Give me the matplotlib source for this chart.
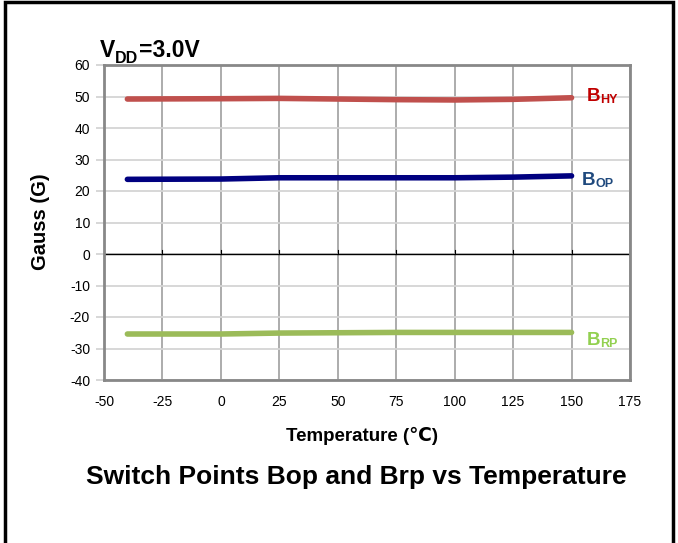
import matplotlib.pyplot as plt
import numpy as np
from matplotlib.patches import Rectangle

plt.rcParams['font.family'] = ['Liberation Sans', 'DejaVu Sans']
plt.rcParams['axes.unicode_minus'] = False

temps = [-40, 0, 25, 50, 75, 100, 125, 150]
b_hy = [49.2, 49.3, 49.4, 49.2, 49.0, 48.9, 49.1, 49.6]
b_op = [23.7, 23.8, 24.2, 24.2, 24.2, 24.2, 24.4, 24.8]
b_rp = [-25.4, -25.4, -25.1, -25.0, -24.9, -24.9, -24.9, -24.9]

x_ticks = [-50, -25, 0, 25, 50, 75, 100, 125, 150, 175]
y_ticks = [-40, -30, -20, -10, 0, 10, 20, 30, 40, 50, 60]

fig = plt.figure(figsize=(6.78, 5.43), dpi=100)
ax = fig.add_axes([104 / 678, 1 - 380 / 543, (630 - 104) / 678, (380 - 65) / 543])
renderer = fig.canvas.get_renderer()

# outer frame
fig.patches.append(Rectangle((5 / 678, -0.05), (673 - 5) / 678, 1.05 - 2 / 543,
                             transform=fig.transFigure, fill=False,
                             edgecolor='black', linewidth=2.5))

ax.set_xlim(-50, 175)
ax.set_ylim(-40, 60)
ax.set_xticks(x_ticks)
ax.set_yticks(y_ticks)

for x in x_ticks:
    ax.axvline(x, color='#a6a6a6', linewidth=1.3, zorder=1)
for y in y_ticks:
    ax.axhline(y, color='#d4d4d4', linewidth=1.3, zorder=1)
ax.axhline(0, color='black', linewidth=1.0, zorder=2)
for x in x_ticks:
    ax.plot([x, x], [0, 1.4], color='black', linewidth=0.8, zorder=2)

for s in ax.spines.values():
    s.set_color('#888888')
    s.set_linewidth(2)

ax.tick_params(axis='x', length=0, labelsize=10, pad=11)
ax.tick_params(axis='y', length=6, color='#d4d4d4', width=1.3, labelsize=10, pad=4)

ax.plot(temps, b_hy, color='#c0504d', linewidth=4, solid_capstyle='round', zorder=3)
ax.plot(temps, b_op, color='#000080', linewidth=4, solid_capstyle='round', zorder=3)
ax.plot(temps, b_rp, color='#9bbb59', linewidth=4, solid_capstyle='round', zorder=3)


def sub_label(x, y, main, sub, size, sub_size, drop, color, coords):
    # main text followed by a lowered, smaller subscript
    if coords == 'data':
        t = ax.text(x, y, main, color=color, fontsize=size, fontweight='bold',
                    ha='left', va='baseline')
    else:
        t = fig.text(x, y, main, color=color, fontsize=size, fontweight='bold',
                     ha='left', va='baseline')
    w = t.get_window_extent(renderer).width * 72 / fig.dpi
    a = ax.annotate(sub, xy=(x, y), xycoords=coords, xytext=(w, -drop),
                    textcoords='offset points', color=color, fontsize=sub_size,
                    fontweight='bold', ha='left', va='baseline')
    return w + a.get_window_extent(renderer).width * 72 / fig.dpi


sub_label(156.6, 48.6, 'B', 'HY', 13.5, 9, 1.5, '#c00000', 'data')
sub_label(154.5, 21.9, 'B', 'OP', 13.5, 9, 1.5, '#1f497d', 'data')
sub_label(156.6, -28.9, 'B', 'RP', 13.5, 9, 1.5, '#92d050', 'data')

vdd_x, vdd_y = 100 / 678, 1 - 57 / 543
w = sub_label(vdd_x, vdd_y, 'V', 'DD', 16.5, 11.5, 4.5, 'black', 'figure fraction')
ax.annotate('=3.0V', xy=(vdd_x, vdd_y), xycoords='figure fraction',
            xytext=(w, 0), textcoords='offset points', fontsize=16.5,
            fontweight='bold', ha='left', va='baseline')

fig.text(40 / 678, 1 - 222 / 543, 'Gauss (G)', fontsize=14.5, fontweight='bold',
         rotation=90, ha='center', va='center')
fig.text(362 / 678, 1 - 436 / 543, 'Temperature (℃)', fontsize=13.5,
         fontweight='bold', ha='center', va='center')
fig.text(356 / 678, 1 - 477 / 543, 'Switch Points Bop and Brp vs Temperature',
         fontsize=19, fontweight='bold', ha='center', va='center')

fig.savefig('out.png', dpi=100)
